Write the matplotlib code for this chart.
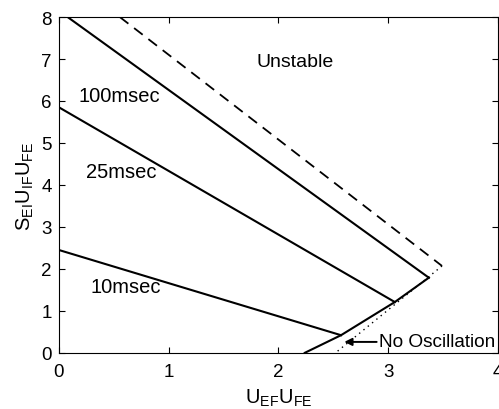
import matplotlib
matplotlib.use("Agg")
import matplotlib.pyplot as plt

plt.rcParams['font.family'] = ['Liberation Sans', 'DejaVu Sans']
plt.rcParams['mathtext.fontset'] = 'custom'
plt.rcParams['mathtext.rm'] = 'Liberation Sans'
plt.rcParams['mathtext.it'] = 'Liberation Sans'

# delay curves (solid)
x_100 = [0.0, 3.37]
y_100 = [8.15, 1.79]
x_25 = [0.0, 3.06]
y_25 = [5.85, 1.21]
x_10 = [0.0, 2.57]
y_10 = [2.45, 0.42]

# lower boundary (no oscillation edge)
x_low = [2.24, 2.57, 3.06, 3.37]
y_low = [0.0, 0.42, 1.21, 1.79]

# dashed upper bound and dotted limit
x_dash = [0.555, 3.49]
y_dash = [8.0, 2.07]
x_dot = [3.49, 2.52]
y_dot = [2.07, 0.0]

xticks = [0, 1, 2, 3, 4]
yticks = [0, 1, 2, 3, 4, 5, 6, 7, 8]

fig = plt.figure(figsize=(4.99, 4.10), dpi=100)
ax = fig.add_axes([0.118, 0.137, 0.88, 0.819])

ax.plot(x_100, y_100, color='black', lw=1.5)
ax.plot(x_25, y_25, color='black', lw=1.5)
ax.plot(x_10, y_10, color='black', lw=1.5)
ax.plot(x_low, y_low, color='black', lw=1.5)
ax.plot(x_dash, y_dash, color='black', lw=1.3, ls=(0, (6, 4)))
ax.plot(x_dot, y_dot, color='black', lw=1.0, ls=(0, (1, 3)))

ax.text(2.15, 6.93, 'Unstable', fontsize=14, ha='center', va='center')
ax.text(0.55, 6.12, '100msec', fontsize=14.5, ha='center', va='center')
ax.text(0.57, 4.31, '25msec', fontsize=14.5, ha='center', va='center')
ax.text(0.61, 1.57, '10msec', fontsize=14.5, ha='center', va='center')
ax.annotate('No Oscillation', xy=(2.6, 0.26), xytext=(2.92, 0.26),
            fontsize=13.7, ha='left', va='center',
            arrowprops=dict(arrowstyle='-|>', color='black', lw=1.4,
                            mutation_scale=11, shrinkA=0, shrinkB=0))

ax.set_xlim(0, 4)
ax.set_ylim(0, 8)
ax.set_xticks(xticks)
ax.set_yticks(yticks)
ax.tick_params(direction='in', top=True, right=True, labelsize=13.5, length=4)
ax.tick_params(axis='x', pad=7)
ax.tick_params(axis='y', pad=5)
ax.set_xlabel(r'$\mathregular{U_{EF}U_{FE}}$', fontsize=14.5, labelpad=5)
ax.set_ylabel(r'$\mathregular{S_{EI}U_{IF}U_{FE}}$', fontsize=14.5, labelpad=4)

fig.savefig('out.png', dpi=100)
